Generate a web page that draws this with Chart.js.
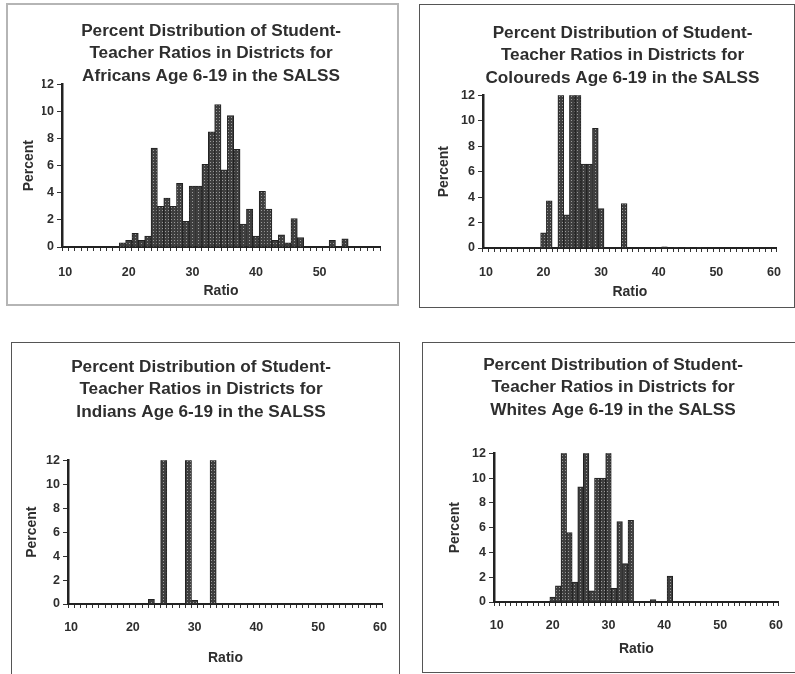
<!DOCTYPE html>
<html>
<head>
<meta charset="utf-8">
<script src="https://cdn.jsdelivr.net/npm/chart.js@4"></script>
<style>
  body { margin: 0; background: #fff; width: 795px; height: 674px; position: relative; overflow: hidden; }
  .panel { position: absolute; box-sizing: border-box; background: #fff; }
  .panel canvas { display: block; }
</style>
</head>
<body>
<div class="panel" style="left:6px;top:3px;width:393px;height:303px;border:2px solid #b5b5b5;"><canvas id="cAfricans"></canvas></div>
<div class="panel" style="left:419px;top:4px;width:376px;height:304px;border:1.5px solid #555;"><canvas id="cColoureds"></canvas></div>
<div class="panel" style="left:11px;top:342px;width:389px;height:334px;border:1.5px solid #555;"><canvas id="cIndians"></canvas></div>
<div class="panel" style="left:422px;top:342px;width:374px;height:331px;border:1.5px solid #555;"><canvas id="cWhites"></canvas></div>
<script>
// student-teacher ratio bins and percent of districts in each
const africanBins = [19, 20, 21, 22, 23, 24, 25, 26, 27, 28, 29, 30, 31, 32, 33, 34, 35, 36, 37, 38, 39, 40, 41, 42, 43, 44, 45, 46, 47, 52, 54];
const africanPct  = [0.3, 0.5, 1.0, 0.5, 0.8, 7.3, 3.0, 3.6, 3.0, 4.7, 1.9, 4.5, 4.5, 6.1, 8.5, 10.5, 5.7, 9.7, 7.2, 1.7, 2.8, 0.8, 4.1, 2.8, 0.5, 0.9, 0.3, 2.1, 0.7, 0.5, 0.6];

const colouredBins = [20, 21, 23, 24, 25, 26, 27, 28, 29, 30, 34, 41, 43, 45, 47];
const colouredPct  = [1.2, 3.7, 16, 2.6, 15, 14, 6.6, 6.6, 9.4, 3.1, 3.5, 0.1, 0.05, 0.05, 0.05];

const indianBins = [23, 25, 29, 30, 33];
const indianPct  = [0.4, 30, 25, 0.3, 35];

const whiteBins = [20, 21, 22, 23, 24, 25, 26, 27, 28, 29, 30, 31, 32, 33, 34, 38, 41, 47, 48];
const whitePct  = [0.4, 1.3, 13, 5.6, 1.6, 9.3, 15, 0.9, 10, 10, 14, 1.1, 6.5, 3.1, 6.6, 0.2, 2.1, 0.05, 0.05];

const yTicks = [0, 2, 4, 6, 8, 10, 12];

const FONT = "'Liberation Sans', Arial, sans-serif";
const INK = "#2e2e2e";

function makePattern() {
  const c = document.createElement("canvas");
  c.width = 3; c.height = 3;
  const g = c.getContext("2d");
  g.fillStyle = "#3f3f3f";
  g.fillRect(0, 0, 3, 3);
  g.fillStyle = "#9a9a9a";
  g.fillRect(1, 1, 1, 1);
  return g.createPattern(c, "repeat");
}
const barFill = makePattern();

function range(a, b) {
  const out = [];
  for (let i = a; i <= b; i++) out.push(i);
  return out;
}

function histogram(id, group, bins, pct, lastRatio, lay) {
  const labels = range(10, lastRatio);
  const values = labels.map(r => {
    const k = bins.indexOf(r);
    return k === -1 ? 0 : pct[k];
  });
  return new Chart(document.getElementById(id), {
    type: "bar",
    data: {
      labels: labels,
      datasets: [{
        label: "Percent",
        data: values,
        backgroundColor: barFill,
        borderColor: "#222",
        borderWidth: 1,
        barPercentage: 1,
        categoryPercentage: 1,
      }],
    },
    options: {
      responsive: true,
      maintainAspectRatio: false,
      animation: false,
      layout: { padding: { left: lay.left, right: lay.right, top: 0, bottom: lay.bottom } },
      plugins: {
        legend: { display: false },
        tooltip: { enabled: false },
        title: {
          display: true,
          text: [
            "Percent Distribution of Student-",
            "Teacher Ratios in Districts for",
            group + " Age 6-19 in the SALSS",
          ],
          color: INK,
          font: { family: FONT, size: 17.2, weight: "bold", lineHeight: 1.305 },
          padding: { top: lay.titleTop, bottom: lay.titleBottom },
        },
      },
      scales: {
        x: {
          afterFit: s => { s.height = lay.xHeight; },
          grid: { display: true, drawOnChartArea: false, drawTicks: true, tickLength: 4, color: "#333", offset: true },
          border: { display: true, color: "#222", width: 2 },
          ticks: {
            autoSkip: false,
            maxRotation: 0,
            padding: lay.xPad,
            color: INK,
            font: { family: FONT, size: 12.5, weight: "bold" },
            callback: (v, i) => (labels[i] % 10 === 0 ? String(labels[i]) : ""),
          },
          title: {
            display: true,
            text: "Ratio",
            color: INK,
            font: { family: FONT, size: 14, weight: "bold" },
            padding: { top: 0, bottom: 0 },
          },
        },
        y: {
          min: 0,
          max: 12,
          afterBuildTicks: s => { s.ticks = yTicks.map(v => ({ value: v })); },
          afterFit: s => { s.width = lay.yWidth; },
          grid: { display: true, drawOnChartArea: false, drawTicks: true, tickLength: 5, color: "#333" },
          border: { display: true, color: "#222", width: 2.5 },
          ticks: { padding: 3, color: INK, font: { family: FONT, size: 12.5, weight: "bold" } },
          title: {
            display: true,
            text: "Percent",
            color: INK,
            font: { family: FONT, size: 14, weight: "bold" },
            padding: { top: lay.pctTop, bottom: 0 },
          },
        },
      },
    },
  });
}

histogram("cAfricans", "Africans", africanBins, africanPct, 59,
  { left: 34, right: 17, bottom: 4, titleTop: 15, titleBottom: -3, yWidth: 20, xHeight: 53, xPad: 14, pctTop: -21 });
histogram("cColoureds", "Coloureds", colouredBins, colouredPct, 60,
  { left: 39, right: 8, bottom: 6, titleTop: 17, titleBottom: 6, yWidth: 24, xHeight: 53, xPad: 13, pctTop: -23 });
histogram("cIndians", "Indians", indianBins, indianPct, 60,
  { left: 7, right: 16, bottom: 8, titleTop: 13, titleBottom: 37, yWidth: 49, xHeight: 63, xPad: 12, pctTop: 5 });
histogram("cWhites", "Whites", whiteBins, whitePct, 60,
  { left: 15, right: 7, bottom: 14, titleTop: 11, titleBottom: 32, yWidth: 56, xHeight: 56, xPad: 12, pctTop: 9 });
</script>
</body>
</html>
